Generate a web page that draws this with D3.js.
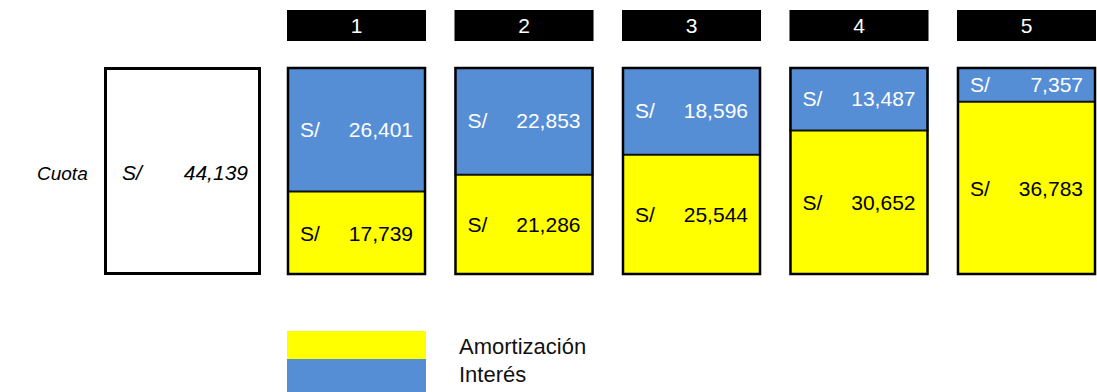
<!DOCTYPE html>
<html>
<head>
<meta charset="utf-8">
<script src="https://cdn.jsdelivr.net/npm/d3@7"></script>
<style>
  html, body { margin: 0; padding: 0; background: #fff; overflow: hidden; }
  svg { display: block; font-family: "Liberation Sans", Arial, sans-serif; }
</style>
</head>
<body>
<svg id="chart" width="1097" height="392"></svg>
<script>
// Loan schedule: periods, interest and amortization per installment
const periods = [1, 2, 3, 4, 5];
const interes = [26401, 22853, 18596, 13487, 7357];
const amortizacion = [17739, 21286, 25544, 30652, 36783];
const cuota = 44139;
const currency = "S/";
const legendLabels = ["Amortización", "Interés"];

const BLUE = "#558ED5";
const YELLOW = "#FFFF00";

const svg = d3.select("#chart");
const fmt = d3.format(",");

const boxTop = 67, boxBottom = 275;

const x = d3.scaleBand()
  .domain(periods)
  .range([287, 1096])
  .paddingInner(0.17)
  .paddingOuter(0);

const y = d3.scaleLinear()
  .domain([0, cuota])
  .range([boxBottom, boxTop]);

const bw = x.bandwidth();

// Period headers
const head = svg.append("g");
head.selectAll("rect").data(periods).join("rect")
  .attr("x", d => x(d)).attr("y", 10)
  .attr("width", bw).attr("height", 31)
  .attr("fill", "#000");
head.selectAll("text").data(periods).join("text")
  .attr("x", d => x(d) + bw / 2).attr("y", 26)
  .attr("dy", "0.35em")
  .attr("text-anchor", "middle")
  .attr("fill", "#fff")
  .attr("font-size", 21)
  .text(d => d);

// Installment box
const cuotaX0 = 104, cuotaX1 = 261;
svg.append("rect")
  .attr("x", cuotaX0 + 1.5).attr("y", y(cuota) + 1.5)
  .attr("width", cuotaX1 - cuotaX0 - 3).attr("height", y(0) - y(cuota) - 3)
  .attr("fill", "#fff").attr("stroke", "#000").attr("stroke-width", 3);

const midY = (y(0) + y(cuota)) / 2;
svg.append("text")
  .attr("x", 37).attr("y", midY + 2).attr("dy", "0.35em")
  .attr("font-style", "italic").attr("font-size", 19)
  .text("Cuota");
svg.append("text")
  .attr("x", 122).attr("y", midY + 2).attr("dy", "0.35em")
  .attr("font-style", "italic").attr("font-size", 21)
  .text(currency);
svg.append("text")
  .attr("x", 248).attr("y", midY + 2).attr("dy", "0.35em")
  .attr("text-anchor", "end")
  .attr("font-style", "italic").attr("font-size", 21)
  .text(fmt(cuota));

// Stacked boxes per period
const rows = periods.map((p, i) => ({ p, int: interes[i], am: amortizacion[i] }));
const g = svg.append("g");

const cols = g.selectAll("g.col").data(rows).join("g").attr("class", "col");

cols.append("rect")
  .attr("x", d => x(d.p)).attr("width", bw)
  .attr("y", d => y(d.am)).attr("height", d => y(0) - y(d.am))
  .attr("fill", YELLOW);
cols.append("rect")
  .attr("x", d => x(d.p)).attr("width", bw)
  .attr("y", d => y(d.am + d.int)).attr("height", d => y(d.am) - y(d.am + d.int))
  .attr("fill", BLUE);
cols.append("line")
  .attr("x1", d => x(d.p)).attr("x2", d => x(d.p) + bw)
  .attr("y1", d => y(d.am)).attr("y2", d => y(d.am))
  .attr("stroke", "#111").attr("stroke-width", 2);
cols.append("rect")
  .attr("x", d => x(d.p) + 1).attr("width", bw - 2)
  .attr("y", d => y(d.am + d.int) + 1).attr("height", d => y(0) - y(d.am + d.int) - 2)
  .attr("fill", "none").attr("stroke", "#000").attr("stroke-width", 2.5);

function labels(sel, key, lo, hi, color) {
  sel.append("text")
    .attr("x", d => x(d.p) + 13)
    .attr("y", d => (y(lo(d)) + y(hi(d))) / 2)
    .attr("dy", "0.35em")
    .attr("font-size", 21).attr("fill", color)
    .text(currency);
  sel.append("text")
    .attr("x", d => x(d.p) + bw - 13)
    .attr("y", d => (y(lo(d)) + y(hi(d))) / 2)
    .attr("dy", "0.35em")
    .attr("text-anchor", "end")
    .attr("font-size", 21).attr("fill", color)
    .text(d => fmt(d[key]));
}
labels(cols, "int", d => d.am, d => d.am + d.int, "#fff");
labels(cols, "am", d => 0, d => d.am, "#000");

// Legend
const legend = svg.append("g");
const legendColors = [YELLOW, BLUE];
legend.selectAll("rect").data(legendLabels).join("rect")
  .attr("x", 287).attr("y", (d, i) => 331 + i * 28)
  .attr("width", 139).attr("height", (d, i) => i === 0 ? 28 : 34)
  .attr("fill", (d, i) => legendColors[i]);
legend.selectAll("text").data(legendLabels).join("text")
  .attr("x", 459).attr("y", (d, i) => 346 + i * 28)
  .attr("dy", "0.35em")
  .attr("font-size", 22).attr("fill", "#111")
  .text(d => d);
</script>
</body>
</html>
